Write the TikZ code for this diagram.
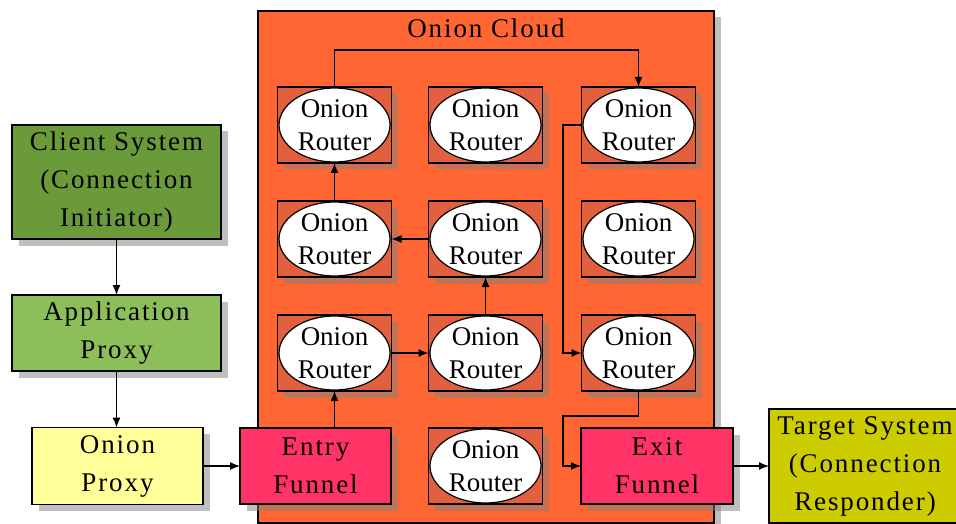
\documentclass[tikz,border=0pt]{standalone}
\usepackage{fontspec}
\setmainfont{Liberation Serif}
\newfontfamily\boxfont[LetterSpace=7]{Liberation Serif}
\usetikzlibrary{arrows.meta,shadows,shapes.geometric}

\definecolor{cloudorange}{HTML}{FF6633}
\definecolor{routerred}{HTML}{E2603F}
\definecolor{clientgreen}{HTML}{6B9A3B}
\definecolor{proxygreen}{HTML}{8CBF5A}
\definecolor{proxyyellow}{HTML}{FFFF99}
\definecolor{funnelpink}{HTML}{FF3366}
\definecolor{targetolive}{HTML}{CCCC00}

\begin{document}
\begin{tikzpicture}[x=1pt,y=-1pt,
  every node/.style={inner sep=0pt, outer sep=0pt},
  shadowed/.style={general shadow={fill=gray, fill opacity=0.5,
      shadow xshift=6.5pt, shadow yshift=-6.5pt}},
  blockbox/.style={shadowed, draw=black, line width=1.3pt, rectangle,
      align=center, font=\boxfont\fontsize{27}{38}\selectfont},
  routerbox/.style={shadowed, draw=black, line width=1.3pt, rectangle,
      fill=routerred, minimum width=114pt, minimum height=76pt},
  routeroval/.style={ellipse, draw=black, fill=white, line width=1.2pt,
      minimum width=111pt, minimum height=74pt, align=center,
      font=\fontsize{27}{33}\selectfont},
  link/.style={draw=black, line width=1.3pt, -{Latex[length=10pt,width=8pt]}}
]
\useasboundingbox (0,0) rectangle (956,524);
\fill[white] (0,0) rectangle (956,524);

% the cloud of routers
\node[shadowed, draw=black, line width=1.3pt, fill=cloudorange,
      minimum width=456pt, minimum height=512pt] (cloud) at (486,267) {};
\node[font=\boxfont\fontsize{27}{38}\selectfont] (cloudtitle) at (486,28) {Onion Cloud};

% grid of onion routers
\foreach \name/\cx/\cy in {r11/334.5/125, r12/485.5/125, r13/638.5/125,
                           r21/334.5/239, r22/485.5/239, r23/638.5/239,
                           r31/334.5/353, r32/485.5/353, r33/638.5/353,
                           r42/485.5/466} {
  \node[routerbox] (\name) at (\cx,\cy) {};
  \node[routeroval] (o\name) at (\cx,\cy) {Onion\\Router};
}

% client side
\node[blockbox, fill=clientgreen, minimum width=209pt, minimum height=114pt]
  (client) at (116.5,182) {Client System\\(Connection\\Initiator)};
\node[blockbox, fill=proxygreen, minimum width=209pt, minimum height=76pt]
  (app) at (116.5,333) {Application\\Proxy};
\node[blockbox, fill=proxyyellow, minimum width=171pt, minimum height=77pt]
  (oproxy) at (117.5,466) {Onion\\Proxy};

% funnels into and out of the cloud
\node[blockbox, fill=funnelpink, minimum width=151pt, minimum height=76pt]
  (entry) at (315.5,466) {Entry\\Funnel};
\node[blockbox, fill=funnelpink, minimum width=152pt, minimum height=76pt]
  (exit) at (657,466) {Exit\\Funnel};

% responder side, running past the right edge
\node[blockbox, fill=targetolive, minimum width=192pt, minimum height=114pt]
  (target) at (865,466) {Target System\\(Connection\\Responder)};

% turning points of the routed connectors
\coordinate (topturn) at (486,50);
\coordinate (leftrail) at (563,240);
\coordinate (exitturn) at (563,416);

% connection path
\draw[link] (client) -- (app);
\draw[link] (app.south) -- (app.south |- oproxy.north);
\draw[link] (oproxy) -- (entry);
\draw[link] (r31.south |- entry.north) -- (r31.south);
\draw[link] (r31) -- (r32);
\draw[link] (r32) -- (r22);
\draw[link] (r22) -- (r21);
\draw[link] (r21) -- (r11);
\draw[link] (r11.north) -- (r11.north |- topturn) -- (r13.north |- topturn) -- (r13.north);
\draw[link] (r13.west) -- (r13.west -| leftrail) -- (leftrail |- r33.west) -- (r33.west);
\draw[link] (r33.south) -- (r33.south |- exitturn) -- (exitturn) -- (exitturn |- exit.west) -- (exit.west);
\draw[link] (exit) -- (target);
\end{tikzpicture}
\end{document}
